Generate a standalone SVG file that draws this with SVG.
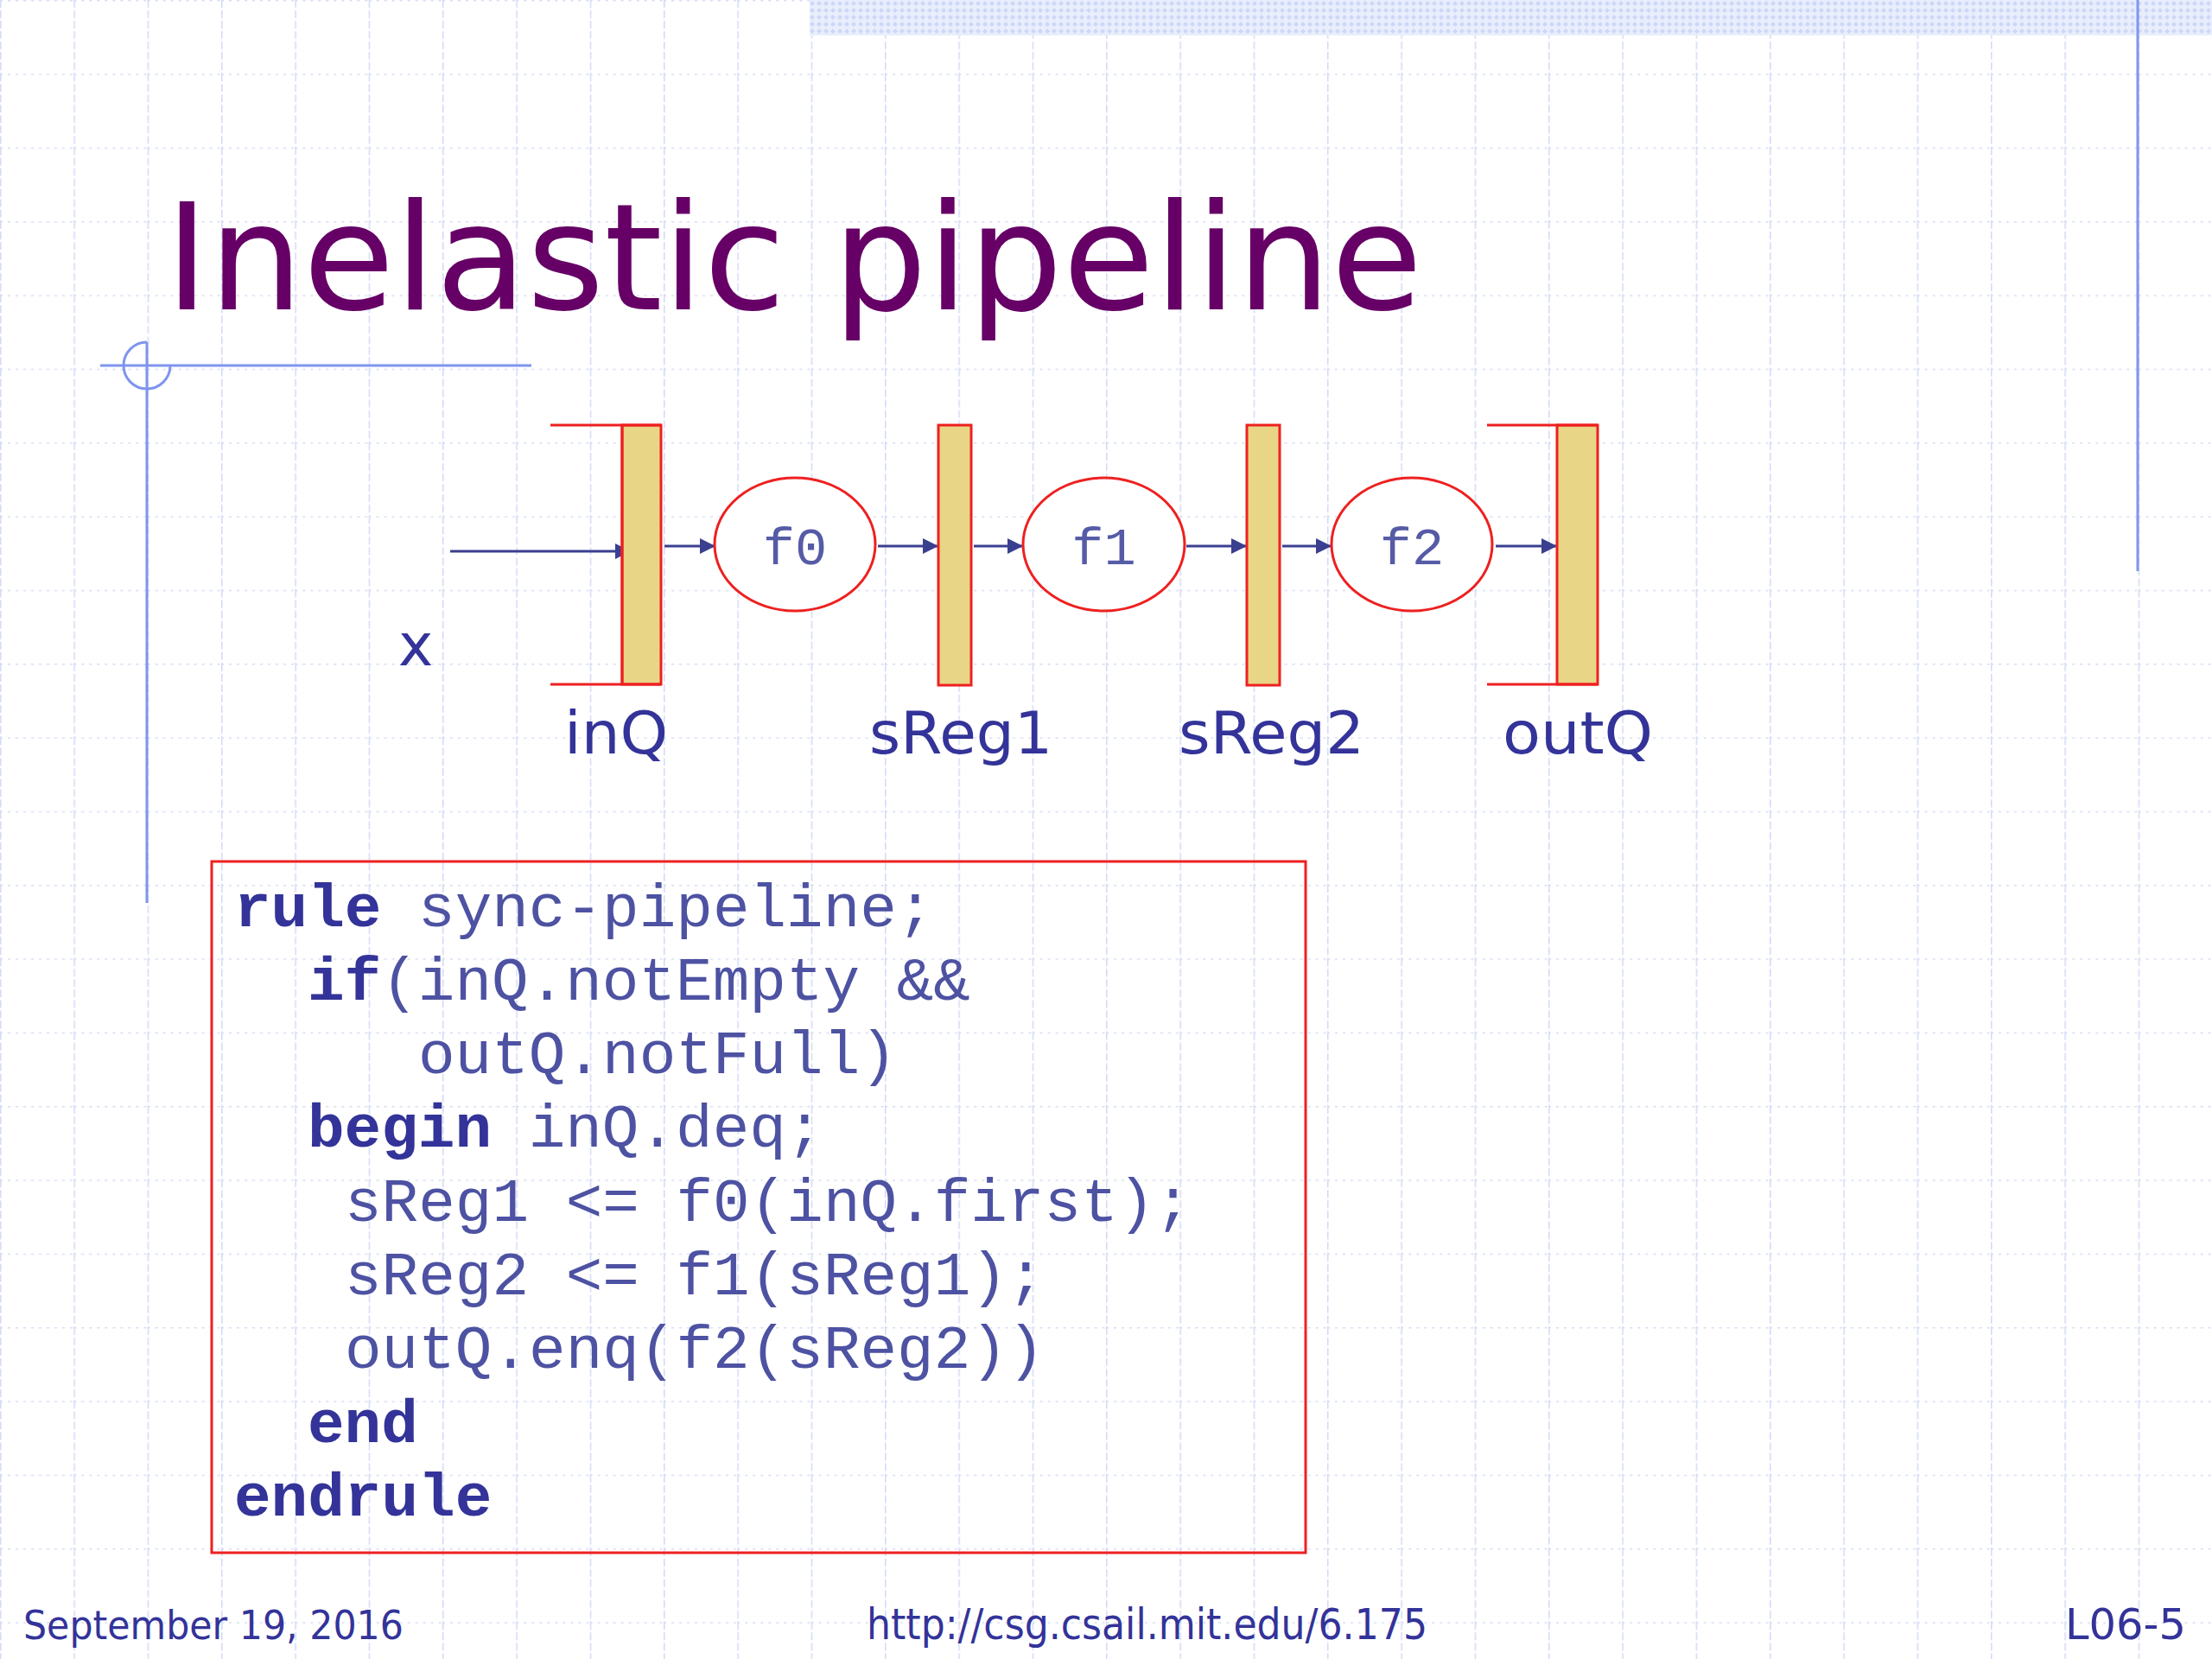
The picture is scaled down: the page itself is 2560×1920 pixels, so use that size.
<svg xmlns="http://www.w3.org/2000/svg" width="2560" height="1920" viewBox="0 0 2560 1920">
  <defs>
    <pattern id="grid" x="0" y="0" width="85.333" height="85.333" patternUnits="userSpaceOnUse">
      <line x1="0.5" y1="0" x2="0.5" y2="85.333" stroke="#d3daf6" stroke-width="2" stroke-dasharray="9 3"/>
      <line x1="0" y1="0.5" x2="85.333" y2="0.5" stroke="#d6dcf2" stroke-width="2" stroke-dasharray="3 6"/>
    </pattern>
    <pattern id="band" x="0" y="0" width="8" height="8" patternUnits="userSpaceOnUse">
      <rect width="8" height="8" fill="#e9eefc"/>
      <path d="M4,1 L7,4 L4,7 L1,4 Z" fill="#cdd7f8"/>
    </pattern>
    <marker id="arr" markerUnits="userSpaceOnUse" markerWidth="18" markerHeight="18" viewBox="0 0 18 18" refX="18" refY="9" orient="auto">
      <path d="M0,0 L18,9 L0,18 Z" fill="#3a3f8f"/>
    </marker>
    <style>
      .conn { stroke: #3a3f8f; stroke-width: 3; fill: none; marker-end: url(#arr); }
      .red { stroke: #ee2020; stroke-width: 3; fill: none; }
      .reg { fill: #e8d585; stroke: #ee2020; stroke-width: 3; }
      .fn { fill: #ffffff; stroke: #ee2020; stroke-width: 3; }
      .deco { stroke: #7f95ee; stroke-width: 3; fill: none; }
      .lbl { font-family: "DejaVu Sans", "Liberation Sans", sans-serif; font-size: 68px; fill: #333399; }
      .fnt { font-family: "Liberation Mono", "DejaVu Sans Mono", monospace; font-size: 62px; fill: #565ba6; text-anchor: middle; }
      .code { font-family: "Liberation Mono", "DejaVu Sans Mono", monospace; font-size: 71px; fill: #4d52a2; }
      .kw { font-weight: bold; fill: #333399; }
      .foot { font-family: "DejaVu Sans", "Liberation Sans", sans-serif; fill: #333399; }
    </style>
  </defs>

  <g id="background">
    <rect x="0" y="0" width="2560" height="1920" fill="#ffffff"/>
    <rect x="0" y="0" width="2560" height="1920" fill="url(#grid)"/>
    <rect x="937" y="0" width="1623" height="41" fill="url(#band)"/>
    <line class="deco" x1="2474" y1="0" x2="2474" y2="661"/>
  </g>

  <g id="corner-mark">
    <line class="deco" x1="116" y1="423" x2="615" y2="423"/>
    <line class="deco" x1="170" y1="396" x2="170" y2="1045"/>
    <path class="deco" d="M170,396 A27,27 0 1,0 197,423"/>
  </g>

  <g id="title">
    <text x="191" y="358" font-family="'DejaVu Sans', 'Liberation Sans', sans-serif" font-size="172" fill="#660066">Inelastic pipeline</text>
  </g>

  <g id="connectors">
    <path class="conn" d="M521,638 H730"/>
    <path class="conn" d="M769,632 H828"/>
    <path class="conn" d="M1016,632 H1086"/>
    <path class="conn" d="M1127,632 H1184"/>
    <path class="conn" d="M1373,632 H1443"/>
    <path class="conn" d="M1484,632 H1541"/>
    <path class="conn" d="M1731,632 H1802"/>
  </g>

  <g id="input-x">
    <text class="lbl" x="461" y="770" font-size="70">x</text>
  </g>

  <g id="inQ">
    <rect class="reg" x="720" y="492" width="45" height="300"/>
    <path class="red" d="M637,492 H765 M637,792 H765 M720,492 V792"/>
    <text class="lbl" x="653" y="872" textLength="120" lengthAdjust="spacingAndGlyphs">inQ</text>
  </g>

  <g id="f0">
    <ellipse class="fn" cx="920" cy="630" rx="93" ry="77"/>
    <text class="fnt" x="920" y="653">f0</text>
  </g>

  <g id="sReg1">
    <rect class="reg" x="1086" y="492" width="38" height="301"/>
    <text class="lbl" x="1006" y="872" textLength="212" lengthAdjust="spacingAndGlyphs">sReg1</text>
  </g>

  <g id="f1">
    <ellipse class="fn" cx="1277.5" cy="630" rx="93.5" ry="77"/>
    <text class="fnt" x="1277.5" y="653">f1</text>
  </g>

  <g id="sReg2">
    <rect class="reg" x="1443" y="492" width="38" height="301"/>
    <text class="lbl" x="1364" y="872" textLength="215" lengthAdjust="spacingAndGlyphs">sReg2</text>
  </g>

  <g id="f2">
    <ellipse class="fn" cx="1634" cy="630" rx="93" ry="77"/>
    <text class="fnt" x="1634" y="653">f2</text>
  </g>

  <g id="outQ">
    <rect class="reg" x="1802" y="492" width="47" height="300"/>
    <path class="red" d="M1721,492 H1849 M1721,792 H1849"/>
    <text class="lbl" x="1739" y="872" textLength="174" lengthAdjust="spacingAndGlyphs">outQ</text>
  </g>

  <g id="code-box">
    <rect x="245" y="997" width="1266" height="800" fill="none" stroke="#ee2020" stroke-width="3"/>
    <text class="code" xml:space="preserve" x="271" y="1072"><tspan class="kw">rule</tspan> sync-pipeline;</text>
    <text class="code" xml:space="preserve" x="356" y="1157"><tspan class="kw">if</tspan>(inQ.notEmpty &amp;&amp;</text>
    <text class="code" x="484" y="1242">outQ.notFull)</text>
    <text class="code" xml:space="preserve" x="356" y="1327"><tspan class="kw">begin</tspan> inQ.deq;</text>
    <text class="code" x="399" y="1413">sReg1 &lt;= f0(inQ.first);</text>
    <text class="code" x="399" y="1498">sReg2 &lt;= f1(sReg1);</text>
    <text class="code" x="399" y="1583">outQ.enq(f2(sReg2))</text>
    <text class="code kw" x="356" y="1669">end</text>
    <text class="code kw" x="271" y="1754">endrule</text>
  </g>

  <g id="footer">
    <text class="foot" x="27" y="1897" font-size="46" textLength="440" lengthAdjust="spacingAndGlyphs">September 19, 2016</text>
    <text class="foot" x="1003" y="1897" font-size="49" textLength="649" lengthAdjust="spacingAndGlyphs">http://csg.csail.mit.edu/6.175</text>
    <text class="foot" x="2390" y="1897" font-size="50" textLength="140" lengthAdjust="spacingAndGlyphs">L06-5</text>
  </g>
</svg>
